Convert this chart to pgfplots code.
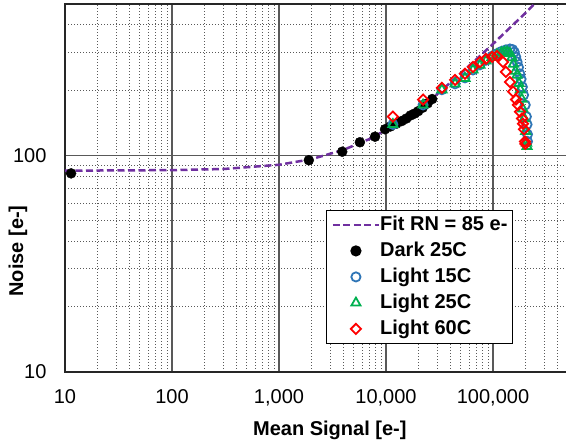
\documentclass[border=0pt]{standalone}
\usepackage{fontspec}
\setmainfont{Liberation Sans}
\usepackage{pgfplots}
\pgfplotsset{compat=1.18}
\definecolor{fitpurple}{HTML}{7030A0}
\definecolor{lblue}{HTML}{2E75B6}
\definecolor{lgreen}{HTML}{00B050}
\definecolor{lred}{HTML}{FF0000}
\definecolor{gridmaj}{HTML}{595959}
\definecolor{gridmin}{HTML}{595959}
\newcommand{\chartfont}{\fontsize{20}{24}\selectfont}
\begin{document}
\begin{tikzpicture}
\begin{axis}[
    scale only axis,
    width=535pt, height=368pt,
    xmode=log, ymode=log,
    xmin=10, xmax=1000000,
    ymin=10, ymax=500,
    xtick={10,100,1000,10000,100000},
    xticklabels={10,100,{1,000},{10,000},{100,000}},
    ytick={10,100},
    yticklabels={10,100},
    minor xtick={20,30,40,50,60,70,80,90,200,300,400,500,600,700,800,900,
        2000,3000,4000,5000,6000,7000,8000,9000,
        20000,30000,40000,50000,60000,70000,80000,90000,
        200000,300000,400000,500000,600000,700000,800000,900000},
    minor ytick={20,30,40,50,60,70,80,90,200,300,400},
    major tick length=0pt, minor tick length=0pt,
    grid=both,
    major grid style={gridmaj, line width=1.3pt},
    minor grid style={gridmin, line width=1pt, dash pattern=on 1pt off 2pt},
    axis line style={black!85, line width=1.8pt},
    /pgf/number format/assume math mode=true,
    ticklabel style={font=\chartfont},
    xticklabel style={yshift=-14pt},
    yticklabel style={xshift=-15pt},
    xlabel={\bfseries Mean Signal [e-]},
    xlabel style={font=\chartfont, at={(axis description cs:0.495,0)}, anchor=base, yshift=-64pt},
    ylabel={\bfseries Noise [e-]},
    ylabel style={font=\chartfont, at={(axis description cs:-0.0879,0.329)}, anchor=center},
    legend style={
        at={(0.488,0.440)}, anchor=north west,
        draw=black, line width=1.2pt, fill=white,
        font=\chartfont\bfseries,
        nodes={inner sep=0pt, text height=14.5pt, text depth=4pt},
        row sep=7.5pt, inner xsep=5pt, inner ysep=5pt,
    },
    legend cell align=left,
    legend image code/.code={\draw[mark repeat=2,mark phase=2,#1]
        plot coordinates {(0pt,0pt) (23pt,0pt) (46pt,0pt)};},
]
% read-noise fit
\addplot[fitpurple, line width=2.5pt, dash pattern=on 7pt off 3.5pt]
    coordinates {
        (10,85) (100,85.5) (300,86.5) (1000,90.5) (2000,96) (4000,106)
        (7000,119) (10000,131) (20000,161) (40000,217) (70000,278)
        (100000,327) (150000,396) (200000,453) (250000,507)
    };
\addlegendentry{Fit RN = 85 e-}

% dark frames
\addplot[only marks, mark=*, mark size=5pt, black]
    coordinates {
        (11.4,82.6) (1900,95) (3900,104) (5700,115) (7900,122) (9800,132)
        (11000,136) (12500,140) (14000,144) (15500,148) (17000,153)
        (18500,156) (20000,160) (22000,166) (24500,174) (27000,182)
    };
\addlegendentry{Dark 25C}

\addplot[only marks, mark=o, mark size=4.6pt, lblue, line width=1.8pt]
    coordinates {
        (11600,139) (22200,171) (33300,201) (44200,214) (54700,228)
        (65000,248) (75600,262) (86000,275) (98000,287) (109000,295)
        (120000,302) (132000,307) (144000,310) (152000,308) (158000,300)
        (163000,285) (168000,270) (173000,255) (178000,238) (183000,225)
        (188000,207) (193000,190) (200000,171) (205000,151) (208000,139)
        (210000,125) (210000,116)
    };
\addlegendentry{Light 15C}

\addplot[only marks, mark=triangle, mark size=5.3pt, lgreen, line width=1.8pt]
    coordinates {
        (11600,139) (22200,171) (33300,201) (44200,214) (54700,227)
        (65000,248) (75600,261) (86000,273) (98000,284) (109000,292)
        (120000,298) (128000,300) (136000,300) (144000,296) (150000,283)
        (155000,264) (162000,245) (168000,235) (175000,215) (180000,201)
        (186000,182) (190000,164) (196000,148) (202000,129) (206000,114)
        (208000,110)
    };
\addlegendentry{Light 25C}

\addplot[only marks, mark=square, mark size=3.6pt, mark options={rotate=45}, lred, line width=1.8pt]
    coordinates {
        (11600,151) (22200,181) (33300,205) (44200,223) (54700,238)
        (65000,256) (75600,270) (86000,279) (98000,285) (109000,288)
        (124000,270) (132000,243) (144000,218) (154000,197) (164000,181)
        (171000,171) (179000,159) (187000,148) (191000,140) (195000,132)
        (199000,116) (201000,113)
    };
\addlegendentry{Light 60C}
\end{axis}
\pgfresetboundingbox
\useasboundingbox (-65pt,-71pt) rectangle (501pt,372pt);
\end{tikzpicture}
\end{document}
